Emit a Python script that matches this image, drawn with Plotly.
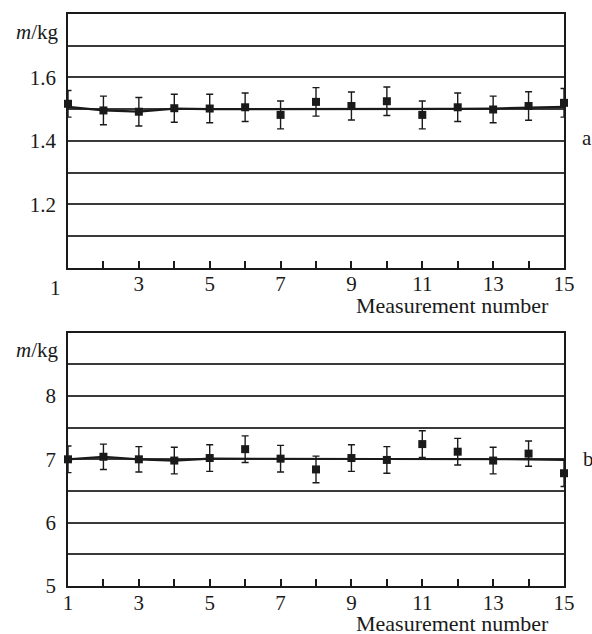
import plotly.graph_objects as go
from plotly.subplots import make_subplots

measurement = list(range(1, 16))

# Panel a
mass_a = [1.517, 1.496, 1.492, 1.503, 1.502, 1.506, 1.482, 1.523, 1.510, 1.525,
          1.482, 1.506, 1.499, 1.510, 1.520]
err_a = [0.042, 0.045, 0.045, 0.044, 0.045, 0.045, 0.044, 0.045, 0.044, 0.045,
         0.044, 0.045, 0.042, 0.045, 0.045]
fit_a = [1.507, 1.496, 1.492, 1.502, 1.500, 1.500, 1.499, 1.499, 1.499, 1.500,
         1.501, 1.501, 1.502, 1.504, 1.507]

# Panel b
mass_b = [7.00, 7.04, 7.00, 6.98, 7.02, 7.16, 7.01, 6.84, 7.02, 6.99,
          7.24, 7.12, 6.98, 7.09, 6.78]
err_b = [0.21, 0.20, 0.20, 0.21, 0.21, 0.21, 0.21, 0.21, 0.21, 0.21,
         0.21, 0.21, 0.21, 0.20, 0.21]
fit_b = [7.00, 7.04, 7.00, 6.98, 7.01, 7.01, 7.01, 7.00, 7.00, 7.00,
         7.00, 7.00, 7.00, 7.00, 6.99]

x_ticks = list(range(1, 16))
x_text_a = [''] + [str(v) if v % 2 == 1 else '' for v in x_ticks[1:]]
x_text_b = [str(v) if v % 2 == 1 else '' for v in x_ticks]

y_ticks_a = [1.1, 1.2, 1.3, 1.4, 1.5, 1.6, 1.7]
y_text_a = ['', '1.2', '', '1.4', '', '1.6', '']
y_ticks_b = [5, 5.5, 6, 6.5, 7, 7.5, 8, 8.5]
y_text_b = ['5', '', '6', '', '7', '', '8', '']

INK = '#1a1a1a'
GRID = '#3a3a3a'
FONT = 'Liberation Serif'
FS = 21

fig = make_subplots(rows=2, cols=1, vertical_spacing=0.0)

for row, mass, err, fit in [(1, mass_a, err_a, fit_a), (2, mass_b, err_b, fit_b)]:
    fig.add_trace(go.Scatter(x=measurement, y=fit, mode='lines',
                             line=dict(color=INK, width=2.2),
                             cliponaxis=False, showlegend=False), row=row, col=1)
    fig.add_trace(go.Scatter(x=measurement, y=mass, mode='markers',
                             marker=dict(symbol='square', size=8, color=INK),
                             error_y=dict(type='data', array=err, visible=True,
                                          color=INK, thickness=1.4, width=3.5),
                             cliponaxis=False, showlegend=False), row=row, col=1)

axis_common = dict(showline=True, linecolor=INK, linewidth=1.5, mirror=True,
                   zeroline=False, tickfont=dict(family=FONT, size=FS, color=INK))

fig.update_layout(
    width=592, height=634,
    margin=dict(l=68, r=28, t=12, b=48),
    plot_bgcolor='white', paper_bgcolor='white',
    font=dict(family=FONT, size=FS, color=INK),
    xaxis=dict(domain=[0, 1], anchor='y', range=[1, 15], tickmode='array',
               tickvals=x_ticks, ticktext=x_text_a, ticks='inside', ticklen=7,
               tickwidth=1.5, tickcolor=INK, showgrid=False, ticklabelstandoff=-4,
               **axis_common),
    yaxis=dict(domain=[0.5563, 1.0], anchor='x', range=[1.0, 1.8], tickmode='array',
               tickvals=y_ticks_a, ticktext=y_text_a, ticks='', showgrid=True,
               gridcolor=GRID, gridwidth=1.5, ticklabelstandoff=6, **axis_common),
    xaxis2=dict(domain=[0, 1], anchor='y2', range=[1, 15], tickmode='array',
                tickvals=x_ticks, ticktext=x_text_b, ticks='inside', ticklen=7,
                tickwidth=1.5, tickcolor=INK, showgrid=False, ticklabelstandoff=-3,
                **axis_common),
    yaxis2=dict(domain=[0.0, 0.443], anchor='x2', range=[5, 9], tickmode='array',
                tickvals=y_ticks_b, ticktext=y_text_b, ticks='', showgrid=True,
                gridcolor=GRID, gridwidth=1.5, ticklabelstandoff=6, **axis_common),
)

ann = []
for yr in ['y domain', 'y2 domain']:
    ann.append(dict(text='<i>m</i>/kg', xref='paper', yref=yr, x=0, y=0.93,
                    xanchor='right', yanchor='middle', xshift=-7, showarrow=False,
                    font=dict(family=FONT, size=FS, color=INK)))
# shifted "1" under top panel
ann.append(dict(text='1', xref='paper', yref='y domain', x=0, y=0,
                xanchor='center', yanchor='top', xshift=-13, yshift=-6, showarrow=False,
                font=dict(family=FONT, size=FS, color=INK)))
# x-axis titles
for yr in ['y domain', 'y2 domain']:
    ann.append(dict(text='Measurement number', xref='paper', yref=yr, x=0.775, y=0,
                    xanchor='center', yanchor='top', yshift=-23, showarrow=False,
                    font=dict(family=FONT, size=22, color=INK)))
# panel letters
ann.append(dict(text='a', xref='paper', yref='y', x=1, y=1.41, xanchor='left',
                yanchor='middle', xshift=16, showarrow=False,
                font=dict(family=FONT, size=FS, color=INK)))
ann.append(dict(text='b', xref='paper', yref='y2', x=1, y=7.0, xanchor='left',
                yanchor='middle', xshift=17, showarrow=False,
                font=dict(family=FONT, size=FS, color=INK)))
fig.update_layout(annotations=ann)

fig.write_html('out.html', config={'displayModeBar': False},
               post_script="document.body.style.margin='0';document.body.style.overflow='hidden';")
